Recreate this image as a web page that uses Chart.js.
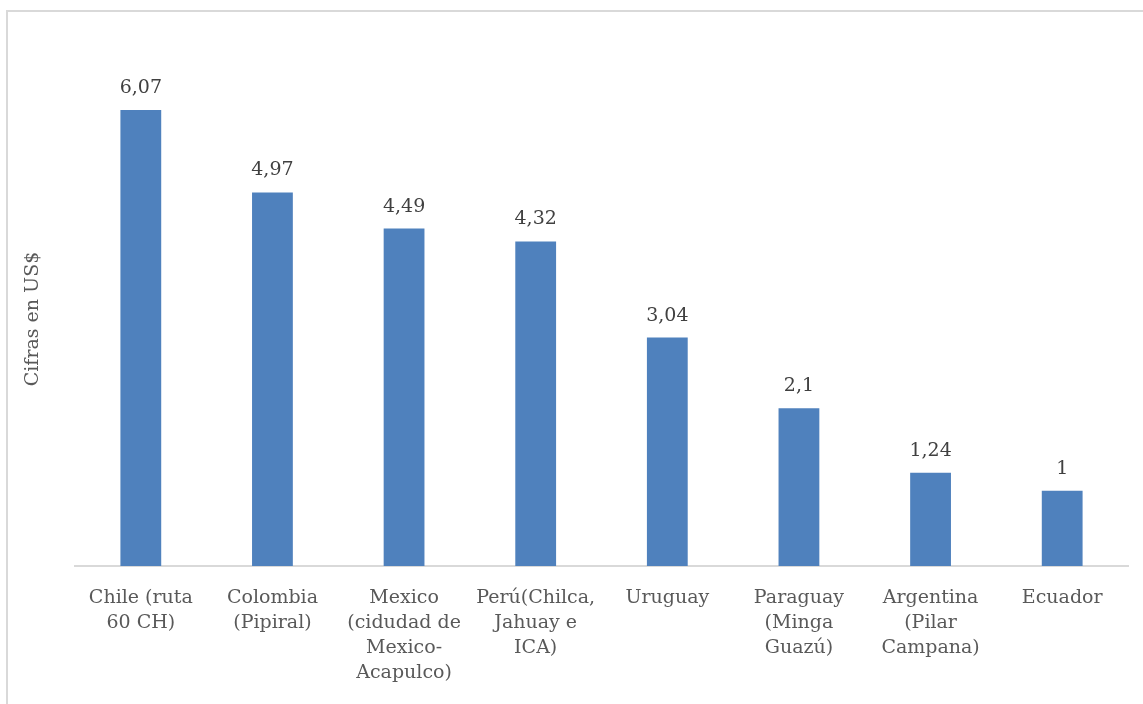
<!DOCTYPE html>
<html>
<head>
<meta charset="utf-8">
<script src="https://cdn.jsdelivr.net/npm/chart.js@4/dist/chart.umd.min.js"></script>
<style>
  html, body { margin: 0; padding: 0; background: #fff; }
  #wrap { position: relative; width: 1143px; height: 704px; }
</style>
</head>
<body>
<div id="wrap"><canvas id="chart" width="1143" height="704"></canvas></div>
<script>
const categories = [
  ["Chile (ruta", "60 CH)"],
  ["Colombia", "(Pipiral)"],
  ["Mexico", "(cidudad de", "Mexico-", "Acapulco)"],
  ["Perú(Chilca,", "Jahuay e", "ICA)"],
  ["Uruguay"],
  ["Paraguay", "(Minga", "Guazú)"],
  ["Argentina", "(Pilar", "Campana)"],
  ["Ecuador"]
];
const values = [6.07, 4.97, 4.49, 4.32, 3.04, 2.1, 1.24, 1];
const valueLabels = ["6,07", "4,97", "4,49", "4,32", "3,04", "2,1", "1,24", "1"];
const yTitle = "Cifras en US$";

const FONT = "'DejaVu Serif', serif";
const SIZE = 19;

// frame border like the Excel chart area (top and left edges visible)
const framePlugin = {
  id: "frame",
  beforeDraw(chart) {
    const ctx = chart.ctx;
    ctx.save();
    ctx.strokeStyle = "#d9d9d9";
    ctx.lineWidth = 2;
    ctx.beginPath();
    ctx.moveTo(7, 710);
    ctx.lineTo(7, 11);
    ctx.lineTo(1145, 11);
    ctx.stroke();

    // axis title, placed where Excel put it
    ctx.translate(33, 319);
    ctx.rotate(-Math.PI / 2);
    ctx.fillStyle = "#595959";
    ctx.font = SIZE + "px " + FONT;
    ctx.textAlign = "center";
    ctx.textBaseline = "middle";
    ctx.fillText(yTitle, 0, 0);
    ctx.restore();
  }
};

const valueLabelPlugin = {
  id: "valueLabels",
  afterDatasetsDraw(chart) {
    const ctx = chart.ctx;
    const meta = chart.getDatasetMeta(0);
    ctx.save();
    ctx.fillStyle = "#404040";
    ctx.font = SIZE + "px " + FONT;
    ctx.textAlign = "center";
    ctx.textBaseline = "middle";
    meta.data.forEach((bar, i) => {
      ctx.fillText(valueLabels[i], bar.x, bar.y - 22);
    });
    ctx.restore();
  }
};

new Chart(document.getElementById("chart"), {
  type: "bar",
  data: {
    labels: categories,
    datasets: [
      {
        data: values,
        backgroundColor: "#4f81bd",
        borderWidth: 0,
        barPercentage: 0.31,
        categoryPercentage: 1,
      },
    ],
  },
  options: {
    responsive: false,
    animation: false,
    layout: { padding: { left: 0, right: 15, top: 40, bottom: 0 } },
    plugins: {
      legend: { display: false },
      tooltip: { enabled: false },
    },
    scales: {
      x: {
        grid: { display: false, drawTicks: false },
        border: { color: "#d9d9d9", width: 2 },
        ticks: {
          color: "#595959",
          font: { family: FONT, size: SIZE, lineHeight: 1.33 },
          padding: 19,
          maxRotation: 0,
          autoSkip: false,
        },
        afterFit(scale) {
          scale.height = 138;
        },
      },
      y: {
        min: 0,
        max: 7,
        grid: { display: false },
        border: { display: false },
        ticks: { display: false },
        afterFit(scale) {
          scale.width = 75;
        },
      },
    },
  },
  plugins: [framePlugin, valueLabelPlugin],
});
</script>
</body>
</html>
